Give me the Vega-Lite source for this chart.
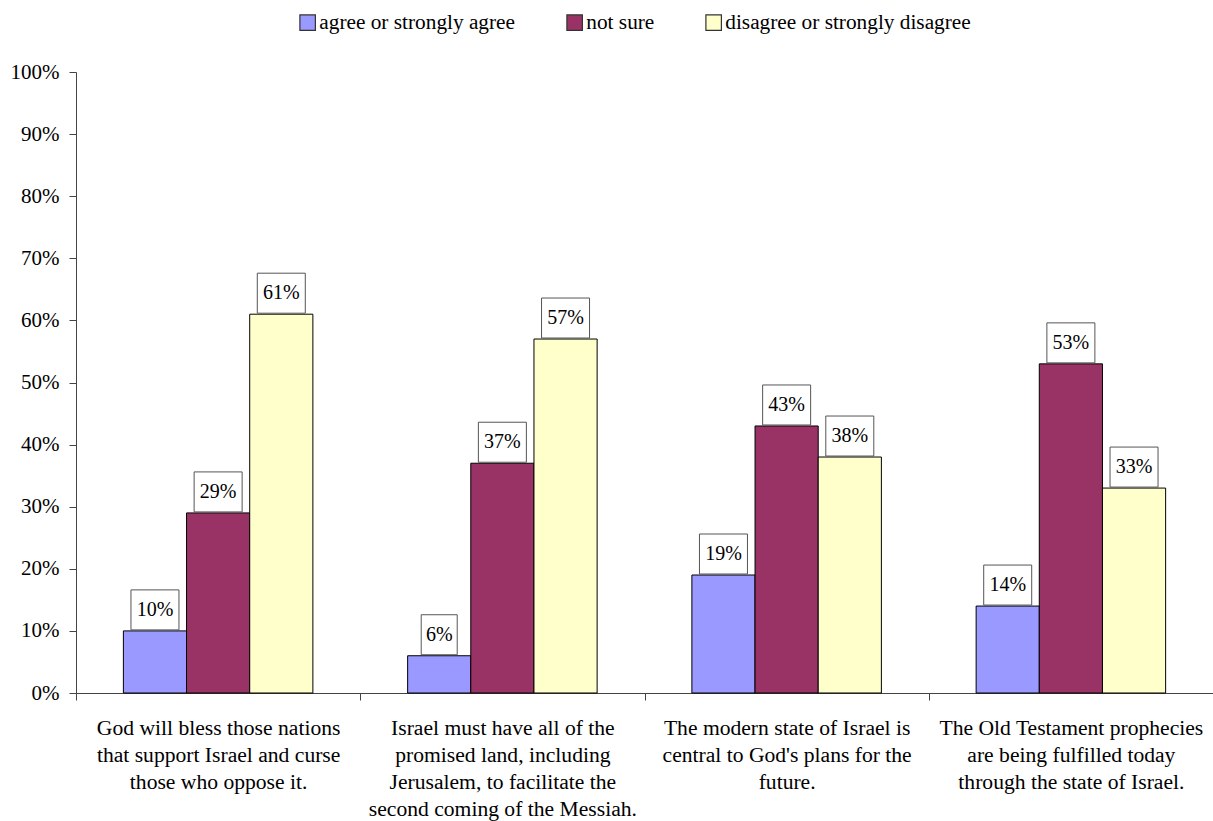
{
  "$schema": "https://vega.github.io/schema/vega-lite/v6.json",
  "autosize": "none",
  "padding": {"left": 76, "top": 72, "right": 0, "bottom": 128},
  "width": 1137,
  "height": 621,
  "background": "white",
  "config": {
    "font": "Liberation Serif",
    "view": {"stroke": null},
    "text": {"font": "Liberation Serif"},
    "legend": {"labelFont": "Liberation Serif"},
    "axis": {"grid": false, "title": null, "domainColor": "#444", "tickColor": "#444", "labelColor": "#000", "labelFont": "Liberation Serif", "labelFontSize": 21, "tickSize": 7}
  },
  "data": {
    "values": [
      {"statement": "God will bless those nations\nthat support Israel and curse\nthose who oppose it.", "response": "agree or strongly agree", "value": 10},
      {"statement": "God will bless those nations\nthat support Israel and curse\nthose who oppose it.", "response": "not sure", "value": 29},
      {"statement": "God will bless those nations\nthat support Israel and curse\nthose who oppose it.", "response": "disagree or strongly disagree", "value": 61},
      {"statement": "Israel must have all of the\npromised land, including\nJerusalem, to facilitate the\nsecond coming of the Messiah.", "response": "agree or strongly agree", "value": 6},
      {"statement": "Israel must have all of the\npromised land, including\nJerusalem, to facilitate the\nsecond coming of the Messiah.", "response": "not sure", "value": 37},
      {"statement": "Israel must have all of the\npromised land, including\nJerusalem, to facilitate the\nsecond coming of the Messiah.", "response": "disagree or strongly disagree", "value": 57},
      {"statement": "The modern state of Israel is\ncentral to God's plans for the\nfuture.", "response": "agree or strongly agree", "value": 19},
      {"statement": "The modern state of Israel is\ncentral to God's plans for the\nfuture.", "response": "not sure", "value": 43},
      {"statement": "The modern state of Israel is\ncentral to God's plans for the\nfuture.", "response": "disagree or strongly disagree", "value": 38},
      {"statement": "The Old Testament prophecies\nare being fulfilled today\nthrough the state of Israel.", "response": "agree or strongly agree", "value": 14},
      {"statement": "The Old Testament prophecies\nare being fulfilled today\nthrough the state of Israel.", "response": "not sure", "value": 53},
      {"statement": "The Old Testament prophecies\nare being fulfilled today\nthrough the state of Israel.", "response": "disagree or strongly disagree", "value": 33}
    ]
  },
  "transform": [
    {"calculate": "datum.value + '%'", "as": "label"}
  ],
  "encoding": {
    "x": {
      "field": "statement",
      "type": "nominal",
      "sort": null,
      "scale": {"paddingInner": 0, "paddingOuter": 0},
      "axis": {
        "labelAngle": 0,
        "tickBand": "extent",
        "labelExpr": "split(datum.label, '\\n')",
        "labelFontSize": 21.6,
        "labelLineHeight": 27,
        "labelPadding": 17,
        "labelLimit": 0,
        "labelOverlap": false,
        "labelBound": false,
        "labelFlush": false
      }
    },
    "xOffset": {
      "field": "response",
      "type": "nominal",
      "sort": ["agree or strongly agree", "not sure", "disagree or strongly disagree"],
      "scale": {"paddingInner": 0, "paddingOuter": 0.75}
    },
    "y": {
      "field": "value",
      "type": "quantitative",
      "scale": {"domain": [0, 100], "nice": false},
      "axis": {
        "values": [0, 10, 20, 30, 40, 50, 60, 70, 80, 90, 100],
        "labelExpr": "datum.value + '%'",
        "labelPadding": 10
      }
    }
  },
  "layer": [
    {
      "mark": {"type": "bar", "stroke": "#000", "strokeWidth": 1},
      "encoding": {
        "color": {
          "field": "response",
          "type": "nominal",
          "scale": {
            "domain": ["agree or strongly agree", "not sure", "disagree or strongly disagree"],
            "range": ["#9999FF", "#993366", "#FFFFCC"]
          },
          "legend": {
            "title": null,
            "orient": "none",
            "direction": "horizontal",
            "legendX": 221,
            "legendY": -60,
            "padding": 0,
            "symbolType": "square",
            "symbolSize": 240,
            "symbolStrokeColor": "#333",
            "symbolStrokeWidth": 1.2,
            "symbolOpacity": 1,
            "labelFontSize": 21.3,
            "labelColor": "#000",
            "labelOffset": 1,
            "labelLimit": 0,
            "columnPadding": 48
          }
        }
      }
    },
    {
      "mark": {"type": "point", "filled": true, "fill": "white", "stroke": "#555", "strokeWidth": 1, "opacity": 1, "size": 1600, "yOffset": -21},
      "encoding": {
        "shape": {
          "condition": {"test": "datum.value < 10", "value": "M-0.9,-1L0.9,-1L0.9,1L-0.9,1Z"},
          "value": "M-1.2,-1L1.2,-1L1.2,1L-1.2,1Z"
        }
      }
    },
    {
      "mark": {"type": "text", "fontSize": 20, "color": "#000", "baseline": "middle", "align": "center", "yOffset": -21},
      "encoding": {
        "text": {"field": "label"}
      }
    }
  ]
}
